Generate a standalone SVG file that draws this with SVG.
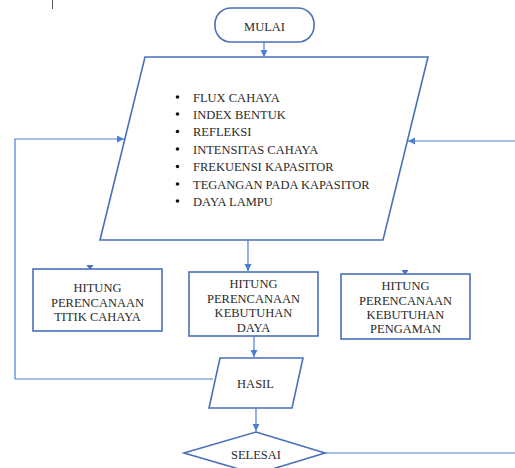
<svg xmlns="http://www.w3.org/2000/svg" width="515" height="468" viewBox="0 0 515 468">
<style>
.shape{fill:#fff;stroke:#4a70b8;stroke-width:1.6}
.conn{fill:none;stroke:#4a7fd4;stroke-width:1.2}
.t{font-family:"Liberation Serif","Times New Roman",serif;font-size:12.5px;fill:#2a2a2a;text-anchor:middle}
.l{font-family:"Liberation Serif","Times New Roman",serif;font-size:12.5px;fill:#2a2a2a}
.head{fill:#4a70c0}
</style>
<defs>
<marker id="arr" markerWidth="8" markerHeight="8" refX="7" refY="4" orient="auto" markerUnits="userSpaceOnUse">
<path d="M0,0.5 L7,4 L0,7.5 Z" fill="#4a7fd4"/>
</marker>
</defs>
<rect width="515" height="468" fill="#fff"/>
<line x1="52.5" y1="0" x2="52.5" y2="9" stroke="#555" stroke-width="1"/>
<g id="connectors">
<path class="conn" d="M264,42 V57" marker-end="url(#arr)"/>
<path class="conn" d="M248,240 V271" marker-end="url(#arr)"/>
<path class="conn" d="M254,336 V357" marker-end="url(#arr)"/>
<path class="conn" d="M256,408 V431" marker-end="url(#arr)"/>
<path class="conn" d="M213,379 H15 V139 H124" marker-end="url(#arr)"/>
<path class="conn" d="M325,453 H515"/>
<path class="conn" d="M515,141 H408" marker-end="url(#arr)"/>
<polygon class="head" points="86.5,265 93.5,265 90,270"/>
<polygon class="head" points="401.5,270 408.5,270 405,275"/>
</g>
<g id="mulai">
<rect class="shape" x="215" y="8" width="99" height="34" rx="16"/>
<text class="t" x="264.5" y="30.5">MULAI</text>
</g>
<g id="input">
<polygon class="shape" points="145,57 428,57 383,240 100,240"/>
<g class="l">
<circle cx="177.5" cy="97" r="1.8" fill="#111"/>
<circle cx="177.5" cy="114" r="1.8" fill="#111"/>
<circle cx="177.5" cy="131.5" r="1.8" fill="#111"/>
<circle cx="177.5" cy="149" r="1.8" fill="#111"/>
<circle cx="177.5" cy="166.5" r="1.8" fill="#111"/>
<circle cx="177.5" cy="184" r="1.8" fill="#111"/>
<circle cx="177.5" cy="201" r="1.8" fill="#111"/>
<text x="193" y="101.5">FLUX CAHAYA</text>
<text x="193" y="118.5">INDEX BENTUK</text>
<text x="193" y="136">REFLEKSI</text>
<text x="193" y="153.5">INTENSITAS CAHAYA</text>
<text x="193" y="171">FREKUENSI KAPASITOR</text>
<text x="193" y="188.5">TEGANGAN PADA KAPASITOR</text>
<text x="193" y="205.5">DAYA LAMPU</text>
</g>
</g>
<g id="titik">
<rect class="shape" x="33" y="269" width="129" height="62"/>
<text class="t" x="97.5" y="291.5">HITUNG</text>
<text class="t" x="97.5" y="306.5">PERENCANAAN</text>
<text class="t" x="97.5" y="320.5">TITIK CAHAYA</text>
</g>
<g id="daya">
<rect class="shape" x="189" y="272" width="129" height="64"/>
<text class="t" x="253.5" y="287.5">HITUNG</text>
<text class="t" x="253.5" y="302.5">PERENCANAAN</text>
<text class="t" x="253.5" y="316.5">KEBUTUHAN</text>
<text class="t" x="253.5" y="331.5">DAYA</text>
</g>
<g id="pengaman">
<rect class="shape" x="341" y="274" width="129" height="65"/>
<text class="t" x="405.5" y="289.5">HITUNG</text>
<text class="t" x="405.5" y="305">PERENCANAAN</text>
<text class="t" x="405.5" y="319">KEBUTUHAN</text>
<text class="t" x="405.5" y="333">PENGAMAN</text>
</g>
<g id="hasil">
<polygon class="shape" points="220,358 303,358 292,408 209,408"/>
<text class="t" x="255.5" y="388">HASIL</text>
</g>
<g id="selesai">
<polygon class="shape" points="256,432 325,453 256,474 184,453"/>
<text class="t" x="256" y="459">SELESAI</text>
</g>
</svg>
